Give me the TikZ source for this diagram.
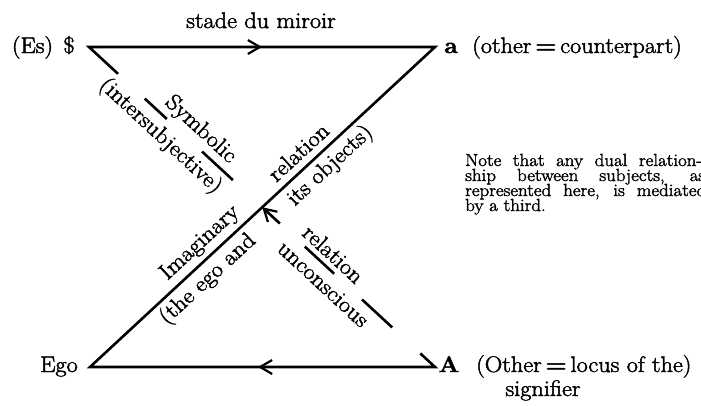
\documentclass[tikz,border=0pt]{standalone}
\usepackage{fontspec}
\setmainfont{Latin Modern Roman}[FakeBold=2, FakeStretch=1.08]
\usetikzlibrary{arrows.meta,calc}
\begin{document}
\begin{tikzpicture}[x=1pt,y=-1pt,
  lbl/.style={inner sep=0pt, font=\fontsize{22.5}{26}\selectfont},
  notetxt/.style={inner sep=0pt, anchor=base west, font=\fontsize{17.5}{15}\selectfont},
  edge/.style={line width=2.6pt, line join=miter},
  barb/.style={-{Straight Barb[length=12pt,width=14pt,line width=2.2pt]}}]
\useasboundingbox (0,0) rectangle (701,405);
% vertices
\coordinate (S) at (89,47);
\coordinate (a) at (435,47);
\coordinate (E) at (90,367);
\coordinate (A) at (435,367);
\coordinate (X) at (intersection of S--A and E--a);
% vertex labels
\node[lbl, anchor=base] (es) at (32.5,53) {(Es)};
\node[lbl, anchor=base] (dollar) at (69,53) {\$};
\node[lbl, anchor=base] (alab) at (451,53) {\textbf{a}};
\node[lbl, anchor=base west] (acp) at (472,53) {(other\,\textbf{=}\,counterpart)};
\node[lbl, anchor=base] (title) at (261,28) {stade du miroir};
\node[lbl, anchor=base] (ego) at (59,372) {Ego};
\node[lbl, anchor=base] (Alab) at (449,372) {\textbf{A}};
\node[lbl, anchor=base west] (other) at (476,372) {(Other\,\textbf{=}\,locus of the)};
\node[lbl, anchor=base] (sig) at (543,396) {signifier};
% main frame
\draw[edge] ($(S)!39.5pt!(A)$) -- (S) -- (a) -- (E) -- (A) -- ($(A)!20pt!(S)$);
\draw[edge, barb] ($(S)!166pt!(a)$) -- ($(S)!173pt!(a)$);
\draw[edge, barb] ($(A)!170pt!(E)$) -- ($(A)!177pt!(E)$);
% broken symbolic line
\draw[edge] ($(S)!76pt!(A)$) -- ($(S)!106pt!(A)$);
\draw[edge] ($(S)!154pt!(A)$) -- ($(S)!196pt!(A)$);
\draw[edge] ($(S)!294pt!(A)$) -- ($(S)!334pt!(A)$);
\draw[edge] ($(S)!372pt!(A)$) -- ($(S)!413pt!(A)$);
\draw[edge, barb] ($(S)!260pt!(A)$) -- (X);
% diagonal labels
\node[lbl, rotate=-42.8] (sym) at (200.5,129.7) {Symbolic};
\node[lbl, rotate=-42.8] (inter) at (160.4,136.2) {(intersubjective)};
\node[lbl, rotate=-42.8] (rel2) at (333.4,254.0) {relation};
\node[lbl, rotate=-42.8] (uncon) at (323.3,284.1) {unconscious};
\node[lbl, rotate=42.8] (imag) at (200.1,243.1) {Imaginary};
\node[lbl, rotate=42.8] (theego) at (207.9,279.4) {(the ego and};
\node[lbl, rotate=42.8] (rel1) at (298.3,152.0) {relation};
\node[lbl, rotate=42.8] (itsobj) at (330.4,165.9) {its objects)};
% note
\node[notetxt] (note1) at (465,166) {\makebox[237pt][s]{Note that any dual relation-}};
\node[notetxt] (note2) at (465,181) {\makebox[240pt][s]{ship between subjects, as}};
\node[notetxt] (note3) at (465,196) {\makebox[241pt][s]{represented here, is mediated}};
\node[notetxt] (note4) at (465,211) {by a third.};
\end{tikzpicture}
\end{document}
